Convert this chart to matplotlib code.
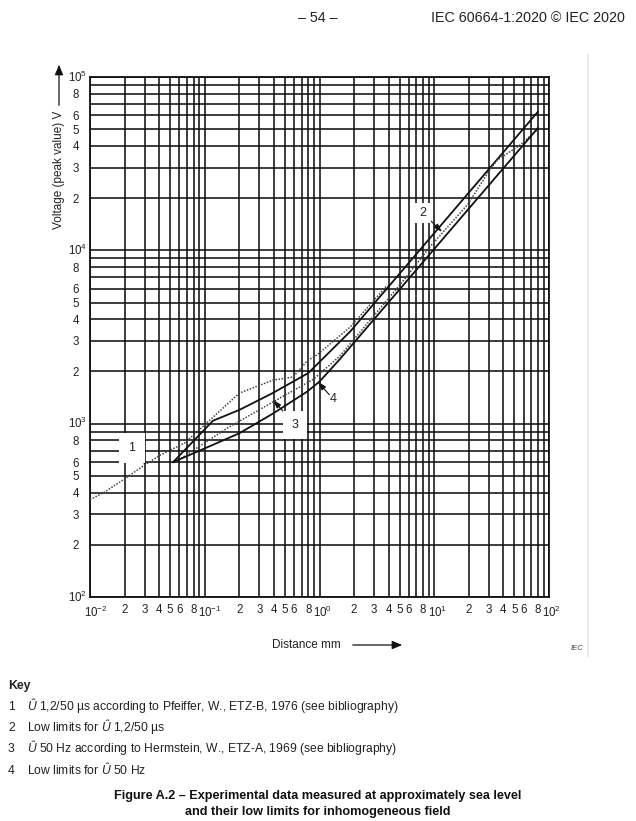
import matplotlib
matplotlib.use('Agg')
import matplotlib.pyplot as plt
import matplotlib.transforms as mtrans
from matplotlib.ticker import FixedLocator, LogLocator, FuncFormatter, NullFormatter
import numpy as np

plt.rcParams['font.family'] = ['Liberation Sans', 'DejaVu Sans']
plt.rcParams['mathtext.fontset'] = 'custom'
plt.rcParams['mathtext.rm'] = 'Liberation Sans'
plt.rcParams['mathtext.it'] = 'Liberation Sans:italic'
plt.rcParams['mathtext.bf'] = 'Liberation Sans:bold'
plt.rcParams['mathtext.default'] = 'regular'

# ---------------- data ----------------
# curve 1: U 1,2/50 us (Pfeiffer) - dotted
c1_distance = [0.01, 0.0135, 0.02, 0.03, 0.041, 0.067, 0.111, 0.2, 0.39, 0.59, 0.78, 0.95, 1.16, 1.85, 2.6, 3.9]
c1_voltage = [365, 404, 480, 578, 659, 774, 1050, 1500, 1780, 1860, 2300, 2490, 2780, 3610, 4650, 6300]
# curve 2: low limits for U 1,2/50 us - solid
c2_distance = [0.053, 0.118, 0.2, 0.39, 0.8, 1.85, 80]
c2_voltage = [600, 1040, 1200, 1500, 1960, 3400, 63000]
# curve 3: U 50 Hz (Hermstein) - dotted
c3_distance = [0.062, 0.156, 0.39, 0.88, 1.5, 2.8, 5.3, 9.2, 19.7, 28.8, 35, 56, 78.5]
c3_voltage = [630, 940, 1330, 1800, 2450, 4000, 6600, 10500, 18500, 27500, 33000, 40500, 49500]
# curve 4: low limits for U 50 Hz - solid
c4_distance = [0.053, 0.1, 0.2, 0.39, 0.78, 1.0, 1.5, 80]
c4_voltage = [600, 720, 880, 1140, 1530, 1750, 2350, 50800]

x_major = [0.01, 0.1, 1, 10, 100]
x_major_labels = ['10$^{-2}$', '10$^{-1}$', '10$^{0}$', '10$^{1}$', '10$^{2}$']
y_major = [100, 1000, 10000, 100000]
y_major_labels = ['10$^{2}$', '10$^{3}$', '10$^{4}$', '10$^{5}$']
labeled_minor_digits = [2, 3, 4, 5, 6, 8]

key_numbers = ['1', '2', '3', '4']
key_texts = [
    r'$\mathit{Û}$ 1,2/50 µs according to Pfeiffer, W., ETZ-B, 1976 (see bibliography)',
    r'Low limits for $\mathit{Û}$ 1,2/50 µs',
    r'$\mathit{Û}$ 50 Hz according to Hermstein, W., ETZ-A, 1969 (see bibliography)',
    r'Low limits for $\mathit{Û}$ 50 Hz',
]

# ---------------- figure ----------------
W, H = 636, 821
fig = plt.figure(figsize=(W / 100, H / 100), dpi=100)
fig.patch.set_facecolor('white')


def fx(px):
    return px / W


def fy(py):
    return 1 - py / H


ax = fig.add_axes([fx(90), fy(597), fx(549) - fx(90), fy(77) - fy(597)])
ax.set_xscale('log')
ax.set_yscale('log')
ax.set_xlim(x_major[0], x_major[-1])
ax.set_ylim(y_major[0], y_major[-1])

ax.xaxis.set_major_locator(FixedLocator(x_major))
ax.xaxis.set_major_formatter(NullFormatter())
ax.yaxis.set_major_locator(FixedLocator(y_major))
ax.yaxis.set_major_formatter(NullFormatter())
ax.xaxis.set_minor_locator(LogLocator(base=10, subs=np.arange(2, 10), numticks=50))
ax.yaxis.set_minor_locator(LogLocator(base=10, subs=np.arange(2, 10), numticks=50))


def minor_fmt(v, p):
    d = int(round(v / 10 ** np.floor(np.log10(v) + 1e-9)))
    return str(d) if d in labeled_minor_digits else ''


ax.xaxis.set_minor_formatter(FuncFormatter(minor_fmt))
ax.yaxis.set_minor_formatter(FuncFormatter(minor_fmt))
TICK_FS = 8.3
ax.tick_params(which='both', length=0, labelsize=TICK_FS, colors='#222222')
ax.tick_params(axis='x', which='both', pad=5)
ax.tick_params(axis='y', which='both', pad=8)

# major decade labels, placed so that the "10" sits on the grid line
xt = mtrans.offset_copy(ax.get_xaxis_transform(), fig=fig, x=-6.5, y=-7.6, units='dots')
for v, lab in zip(x_major, x_major_labels):
    ax.text(v, 0, lab, transform=xt, ha='left', va='top', fontsize=TICK_FS, color='#222222')
yt = mtrans.offset_copy(ax.get_yaxis_transform(), fig=fig, x=-22.5, y=0, units='dots')
for v, lab in zip(y_major, y_major_labels):
    ax.text(0, v, lab, transform=yt, ha='left', va='center', fontsize=TICK_FS, color='#222222')

ax.set_axisbelow(True)
ax.grid(True, which='both', color='#111111', lw=1.15)
for s in ax.spines.values():
    s.set_color('#111111')
    s.set_linewidth(1.3)

dot = (0, (1.0, 1.0))
ax.plot(c1_distance, c1_voltage, color='#444444', lw=1.1, ls=dot, zorder=4)
ax.plot(c2_distance, c2_voltage, color='#111111', lw=1.3, zorder=4)
ax.plot(c3_distance, c3_voltage, color='#444444', lw=1.1, ls=dot, zorder=4)
ax.plot(c4_distance, c4_voltage, color='#111111', lw=1.3, zorder=4)

arrow_kw = dict(arrowstyle='-|>,head_length=0.55,head_width=0.18', color='#111111', lw=0.8,
                shrinkA=4, shrinkB=0, patchA=None)
# label: text, tip (xy), text position, box pad
annots = [
    ('1', (0.0308, 578), (0.0232, 724), 0.75),
    ('2', (11.7, 12770), (7.98, 16400), 0.35),
    ('3', (0.394, 1371), (0.612, 983), 0.65),
    ('4', (0.97, 1742), (1.31, 1390), 0.0),
]
for txt, tip, pos, pad in annots:
    bb = dict(boxstyle='square,pad=%s' % pad, fc='white', ec='none') if pad > 0 else None
    ax.annotate(txt, xy=tip, xytext=pos, fontsize=9, ha='center', va='center',
                bbox=bb, arrowprops=arrow_kw, zorder=3, color='#222222')

# axis titles with arrows
fig.text(fx(59), fy(170), 'Voltage (peak value) V', rotation=90, ha='center', va='center',
         fontsize=8.5, color='#222222')
fig.add_artist(matplotlib.patches.FancyArrowPatch((fx(59), fy(108)), (fx(59), fy(62)),
               transform=fig.transFigure, arrowstyle='-|>,head_length=6,head_width=2.5',
               color='#111111', lw=0.9, mutation_scale=1))
fig.text(fx(306), fy(645), 'Distance mm', ha='center', va='center', fontsize=8.5, color='#222222')
fig.add_artist(matplotlib.patches.FancyArrowPatch((fx(350), fy(645)), (fx(405), fy(645)),
               transform=fig.transFigure, arrowstyle='-|>,head_length=6,head_width=2.5',
               color='#111111', lw=0.9, mutation_scale=1))
fig.text(fx(577), fy(648), 'IEC', ha='center', va='center', fontsize=5.5, style='italic', color='#444444')
fig.add_artist(matplotlib.lines.Line2D([fx(588), fx(588)], [fy(55), fy(656)], transform=fig.transFigure,
                                       color='#e4e4e4', lw=1.2))

# header
fig.text(fx(318), fy(18), '– 54 –', ha='center', va='center', fontsize=10.3, color='#222222')
fig.text(fx(625), fy(18), 'IEC 60664-1:2020 © IEC 2020', ha='right', va='center', fontsize=10.3, color='#222222')

# key
fig.text(fx(8), fy(689), 'Key', ha='left', va='baseline', fontsize=8.8, fontweight='bold', color='#222222')
key_y = [710, 731, 752, 774]
for n, t, y in zip(key_numbers, key_texts, key_y):
    fig.text(fx(8), fy(y), n, ha='left', va='baseline', fontsize=8.7, color='#222222')
    fig.text(fx(27), fy(y), t, ha='left', va='baseline', fontsize=8.7, color='#222222')

# caption
fig.text(fx(318), fy(796), 'Figure A.2 – Experimental data measured at approximately sea level',
         ha='center', va='center', fontsize=9.1, fontweight='bold', color='#111111')
fig.text(fx(318), fy(812), 'and their low limits for inhomogeneous field',
         ha='center', va='center', fontsize=9.1, fontweight='bold', color='#111111')

fig.savefig('out.png', dpi=100, facecolor='white')
